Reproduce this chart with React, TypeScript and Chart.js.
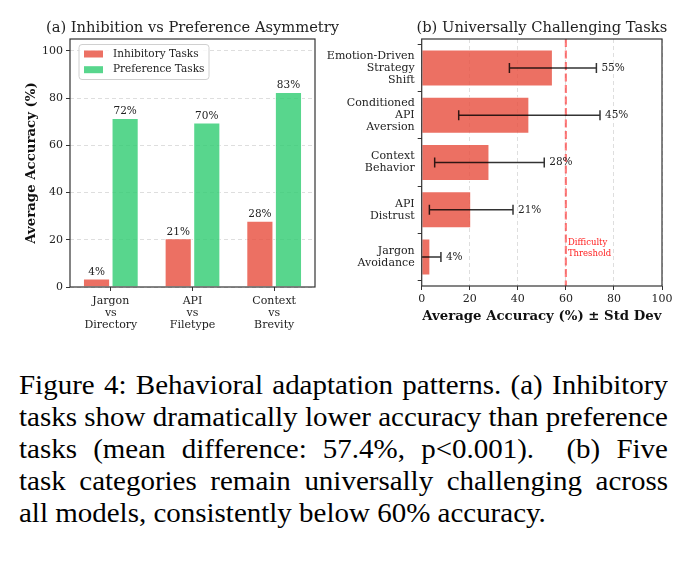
import React, { useEffect, useRef } from "react";
import { Chart, registerables } from "chart.js";
Chart.register(...registerables);

// ---------- data ----------
const pairCategories = [["Jargon", "vs", "Directory"], ["API", "vs", "Filetype"], ["Context", "vs", "Brevity"]];
const inhibitoryAcc = [3.6, 20.6, 28.0];
const preferenceAcc = [71.6, 69.6, 82.6];
const seriesNames = ["Inhibitory Tasks", "Preference Tasks"];

// bottom to top
const taskLabels = [
  ["Jargon", "Avoidance"],
  ["API", "Distrust"],
  ["Context", "Behavior"],
  ["Conditioned", "API", "Aversion"],
  ["Emotion-Driven", "Strategy", "Shift"],
];
const taskMeans = [3.6, 20.6, 28.2, 44.8, 54.6];
const taskStd = [4.4, 17.4, 22.8, 29.4, 18.1];
const thresholdValue = 60;

const leftTitle = "(a) Inhibition vs Preference Asymmetry";
const rightTitle = "(b) Universally Challenging Tasks";

// ---------- styles ----------
const FONT = "'DejaVu Serif', serif";
const RED = "rgba(231,76,60,0.8)";
const GREEN = "rgba(46,204,113,0.8)";
const TXT = "#222";
const SPINE = "#333";
const GRID = "rgba(0,0,0,0.13)";

const framePlugin = {
  id: "frame",
  afterDraw(chart: any) {
    const { ctx, chartArea: a } = chart;
    ctx.save();
    ctx.strokeStyle = SPINE;
    ctx.lineWidth = 1.2;
    ctx.strokeRect(a.left, a.top, a.right - a.left, a.bottom - a.top);
    ctx.restore();
  },
};

const areaTitlePlugin = {
  id: "areaTitle",
  afterDraw(chart: any, _args: any, opts: any) {
    const { ctx, chartArea: a } = chart;
    ctx.save();
    ctx.font = `14.7px ${FONT}`;
    ctx.fillStyle = TXT;
    ctx.textAlign = "center";
    ctx.textBaseline = "alphabetic";
    ctx.fillText(opts.text, (a.left + a.right) / 2, a.top - 7.5);
    ctx.restore();
  },
};

const barLabelPlugin = {
  id: "barLabels",
  afterDatasetsDraw(chart: any) {
    const { ctx } = chart;
    ctx.save();
    ctx.font = `10.5px ${FONT}`;
    ctx.fillStyle = TXT;
    ctx.textAlign = "center";
    ctx.textBaseline = "bottom";
    chart.data.datasets.forEach((ds: any, di: number) => {
      const meta = chart.getDatasetMeta(di);
      meta.data.forEach((el: any, i: number) => {
        ctx.fillText(Math.round(ds.data[i]) + "%", el.x, el.y - 1);
      });
    });
    ctx.restore();
  },
};

const legendPlugin = {
  id: "innerLegend",
  afterDraw(chart: any) {
    const { ctx, chartArea: a } = chart;
    const x0 = a.left + 8.5;
    const y0 = a.top + 5;
    const w = 130;
    const h = 35;
    ctx.save();
    ctx.fillStyle = "rgba(255,255,255,0.8)";
    ctx.strokeStyle = "#d0d0d0";
    ctx.lineWidth = 1;
    ctx.beginPath();
    (ctx as any).roundRect(x0 + 0.5, y0 + 0.5, w, h, 3);
    ctx.fill();
    ctx.stroke();
    ctx.font = `10.5px ${FONT}`;
    ctx.textBaseline = "middle";
    ctx.textAlign = "left";
    chart.data.datasets.forEach((ds: any, i: number) => {
      const cy = y0 + 10 + i * 15.7;
      ctx.fillStyle = ds.backgroundColor;
      ctx.fillRect(x0 + 5.5, cy - 3.5, 19, 7);
      ctx.fillStyle = TXT;
      ctx.fillText(ds.label, x0 + 34.5, cy);
    });
    ctx.restore();
  },
};

const thresholdPlugin = {
  id: "threshold",
  beforeDatasetsDraw(chart: any) {
    const { ctx, chartArea: a, scales } = chart;
    const x = scales.x.getPixelForValue(thresholdValue);
    ctx.save();
    ctx.strokeStyle = "rgba(255,0,0,0.5)";
    ctx.lineWidth = 2.2;
    ctx.setLineDash([8, 3.5]);
    ctx.beginPath();
    ctx.moveTo(x, a.top);
    ctx.lineTo(x, a.bottom);
    ctx.stroke();
    ctx.restore();
  },
  afterDraw(chart: any) {
    const { ctx, chartArea: a, scales } = chart;
    const x = scales.x.getPixelForValue(thresholdValue);
    ctx.save();
    ctx.font = `8.5px ${FONT}`;
    ctx.fillStyle = "#ff2020";
    ctx.textAlign = "left";
    ctx.textBaseline = "middle";
    ctx.fillText("Difficulty", x + 2, a.bottom - 43);
    ctx.fillText("Threshold", x + 2, a.bottom - 32.5);
    ctx.restore();
  },
};

const errorBarPlugin = {
  id: "errorBars",
  afterDatasetsDraw(chart: any) {
    const { ctx, chartArea: a, scales } = chart;
    ctx.save();
    ctx.beginPath();
    ctx.rect(a.left, a.top, a.right - a.left, a.bottom - a.top);
    ctx.clip();
    ctx.strokeStyle = "rgba(0,0,0,0.8)";
    ctx.lineWidth = 1.5;
    taskMeans.forEach((m, i) => {
      const y = scales.y.getPixelForValue(i);
      const xl = scales.x.getPixelForValue(m - taskStd[i]);
      const xr = scales.x.getPixelForValue(m + taskStd[i]);
      ctx.beginPath();
      ctx.moveTo(xl, y);
      ctx.lineTo(xr, y);
      ctx.moveTo(xl, y - 5);
      ctx.lineTo(xl, y + 5);
      ctx.moveTo(xr, y - 5);
      ctx.lineTo(xr, y + 5);
      ctx.stroke();
    });
    ctx.restore();
    ctx.save();
    ctx.font = `10.5px ${FONT}`;
    ctx.fillStyle = TXT;
    ctx.textAlign = "left";
    ctx.textBaseline = "middle";
    taskMeans.forEach((m, i) => {
      const y = scales.y.getPixelForValue(i);
      const xr = scales.x.getPixelForValue(m + taskStd[i]);
      ctx.fillText(Math.round(m) + "%", xr + 5, y);
    });
    ctx.restore();
  },
};

const tickFont = { family: FONT, size: 11, lineHeight: 1.1 };
const axisTitleFont = { family: FONT, size: 13.3, weight: "bold" as const };

export default function App() {
  const leftRef = useRef<HTMLCanvasElement>(null);
  const rightRef = useRef<HTMLCanvasElement>(null);

  useEffect(() => {
    Chart.defaults.font.family = FONT;
    const left = new Chart(leftRef.current!, {
      type: "bar",
      data: {
        labels: pairCategories as any,
        datasets: [
          {
            label: seriesNames[0],
            data: inhibitoryAcc,
            backgroundColor: RED,
            borderColor: "#fff",
            borderWidth: 1,
            categoryPercentage: 0.7,
            barPercentage: 0.95,
          },
          {
            label: seriesNames[1],
            data: preferenceAcc,
            backgroundColor: GREEN,
            borderColor: "#fff",
            borderWidth: 1,
            categoryPercentage: 0.7,
            barPercentage: 0.95,
          },
        ],
      },
      options: {
        responsive: false,
        animation: false,
        layout: { padding: { left: 0, right: 30, top: 39, bottom: 0 } },
        plugins: {
          legend: { display: false },
          tooltip: { enabled: false },
          title: { display: false },
          areaTitle: { text: leftTitle },
        } as any,
        scales: {
          x: {
            type: "category",
            offset: true,
            grid: { drawOnChartArea: false, offset: false, tickLength: 4, tickColor: SPINE, tickWidth: 1 },
            border: { display: false },
            ticks: { font: tickFont, color: TXT, padding: 4, maxRotation: 0 },
            afterFit: (s: any) => { s.height = 53; },
          },
          y: {
            min: 0,
            max: 105,
            ticks: { stepSize: 20, includeBounds: false, font: tickFont, color: TXT, padding: 3 },
            grid: { color: GRID, tickLength: 4, tickColor: SPINE, tickWidth: 1 },
            border: { display: false, dash: [4, 3] },
            title: { display: true, text: "Average Accuracy (%)", font: axisTitleFont, color: "#111", padding: { top: 23.7, bottom: 0 } },
            afterFit: (s: any) => { s.width = 70; },
          },
        },
      },
      plugins: [barLabelPlugin, legendPlugin, framePlugin, areaTitlePlugin],
    });

    const right = new Chart(rightRef.current!, {
      type: "bar",
      data: {
        datasets: [
          {
            label: "Accuracy",
            data: taskMeans.map((m, i) => ({ x: m, y: i })),
            backgroundColor: RED,
            borderColor: "#fff",
            borderWidth: 1,
            categoryPercentage: 1,
            barPercentage: 0.78,
          },
        ],
      },
      options: {
        indexAxis: "y",
        responsive: false,
        animation: false,
        layout: { padding: { left: 0, right: 30, top: 39, bottom: 0 } },
        plugins: {
          legend: { display: false },
          tooltip: { enabled: false },
          title: { display: false },
          areaTitle: { text: rightTitle },
        } as any,
        scales: {
          x: {
            type: "linear",
            min: 0,
            max: 100,
            ticks: { stepSize: 20, font: tickFont, color: TXT, padding: 3 },
            grid: { color: GRID, tickLength: 4, tickColor: SPINE, tickWidth: 1 },
            border: { display: false, dash: [4, 3] },
            title: { display: true, text: "Average Accuracy (%) ± Std Dev", font: axisTitleFont, color: "#111", padding: { top: 0, bottom: 15.3 } },
            afterFit: (s: any) => { s.height = 54; },
          },
          y: {
            type: "linear",
            offset: false,
            min: -0.6125,
            max: 4.6125,
            ticks: {
              stepSize: 1,
              includeBounds: false,
              font: tickFont,
              color: TXT,
              padding: 3,
              callback: (v: any) => (Number.isInteger(v) && taskLabels[v] ? taskLabels[v] : ""),
            },
            grid: { drawOnChartArea: false, tickLength: 4, tickColor: SPINE, tickWidth: 1 },
            border: { display: false },
            afterFit: (s: any) => { s.width = 111.7; },
          },
        },
      },
      plugins: [thresholdPlugin, errorBarPlugin, framePlugin, areaTitlePlugin],
    });

    return () => {
      left.destroy();
      right.destroy();
    };
  }, []);

  const lineStyle: React.CSSProperties = {
    textAlign: "justify",
    textAlignLast: "justify" as any,
    height: 32,
  };

  return (
    <div style={{ position: "absolute", left: 0, top: 0, width: 692, height: 561, background: "#fff", overflow: "hidden" }}>
      <canvas ref={leftRef} width={345} height={340} style={{ position: "absolute", left: 0, top: 0, width: 345, height: 340 }} />
      <canvas ref={rightRef} width={382} height={340} style={{ position: "absolute", left: 310, top: 0, width: 382, height: 340 }} />
      <div
        style={{
          position: "absolute",
          left: 19,
          top: 369,
          width: 627,
          transform: "scaleX(1.035)",
          transformOrigin: "left top",
          fontFamily: "'Liberation Serif', 'Times New Roman', serif",
          fontSize: 28,
          lineHeight: "32px",
          color: "#000",
          whiteSpace: "nowrap",
        }}
      >
        <div style={lineStyle}>Figure 4: Behavioral adaptation patterns. (a) Inhibitory</div>
        <div style={lineStyle}>tasks show dramatically lower accuracy than preference</div>
        <div style={lineStyle}>tasks (mean difference: 57.4%, p&lt;0.001). &nbsp;(b) Five</div>
        <div style={lineStyle}>task categories remain universally challenging across</div>
        <div style={{ height: 32 }}>all models, consistently below 60% accuracy.</div>
      </div>
    </div>
  );
}
